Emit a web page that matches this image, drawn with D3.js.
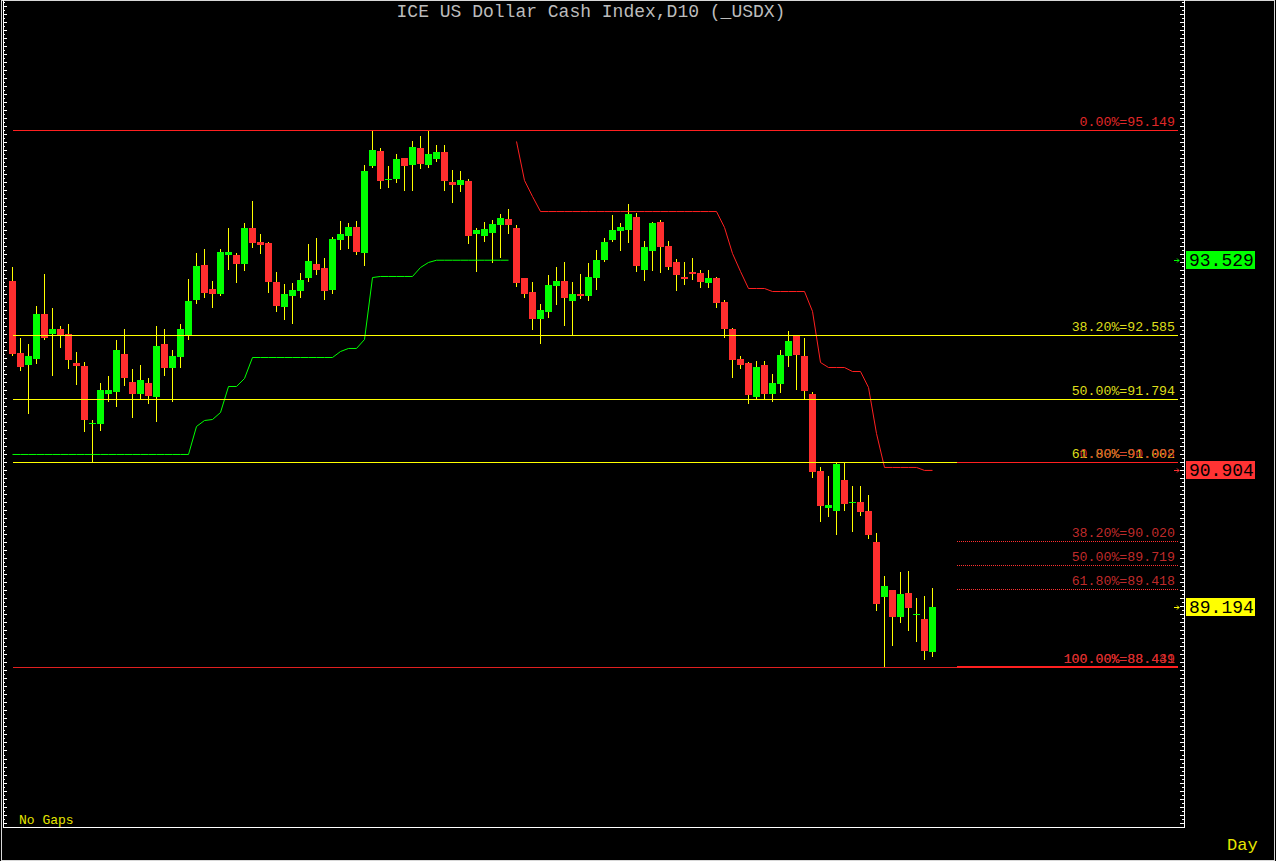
<!DOCTYPE html>
<html><head><meta charset="utf-8">
<script src="https://cdn.jsdelivr.net/npm/d3@7"></script>
<style>html,body{margin:0;padding:0;background:#000;overflow:hidden}svg{display:block}</style>
</head><body><svg id="c" width="1276" height="861"></svg>
<script>
// ---------------- data ----------------
const chartTitle = "ICE US Dollar Cash Index,D10 (_USDX)";
const footerLeft = "No Gaps";
const footerRight = "Day";

const open = [93.263,92.364,92.214,92.289,92.851,92.601,92.664,92.601,92.239,92.202,
91.490,91.478,91.852,91.877,92.352,92.002,91.852,91.989,91.815,92.477,
92.177,92.314,92.589,93.026,93.463,93.163,93.101,93.588,93.588,93.476,
93.925,93.750,93.738,93.251,92.939,93.076,93.138,93.301,93.476,93.426,
93.151,93.775,93.825,93.938,93.613,94.699,94.887,94.537,94.537,94.799,
94.712,94.924,94.712,94.787,94.874,94.500,94.462,94.512,93.850,93.825,
93.863,93.963,94.038,93.925,93.301,93.126,92.789,92.876,93.201,93.263,
93.014,93.101,93.076,93.301,93.526,93.775,93.888,93.900,94.063,93.401,
93.638,94.000,93.700,93.501,93.313,93.376,93.363,93.238,93.301,93.001,
92.664,92.289,92.239,91.815,92.214,91.852,91.977,92.327,92.589,92.327,
91.852,90.891,90.429,90.391,90.778,90.504,90.504,90.391,90.004,89.317,
89.405,89.068,89.367,89.105,89.043,88.630];
const high = [93.438,92.551,92.477,92.951,93.351,92.926,92.701,92.726,92.377,92.252,
91.527,91.989,92.077,92.527,92.664,92.164,92.214,92.052,92.701,92.664,
92.402,92.726,93.288,93.613,93.663,93.263,93.663,93.925,93.613,93.988,
94.262,93.850,93.745,93.376,93.226,93.238,93.363,93.725,93.800,93.551,
93.813,94.013,93.988,94.013,94.712,95.149,94.924,94.699,94.849,94.805,
95.012,95.074,95.149,94.962,94.962,94.649,94.637,94.537,93.925,94.000,
94.025,94.100,94.162,93.963,93.305,93.251,92.976,93.338,93.438,93.501,
93.251,93.351,93.488,93.650,93.800,94.088,93.988,94.225,94.112,93.763,
94.000,94.025,93.763,93.538,93.501,93.551,93.401,93.401,93.313,93.026,
92.676,92.327,92.252,92.264,92.264,92.102,92.402,92.639,92.595,92.551,
91.877,90.941,90.828,90.991,90.991,90.703,90.703,90.591,90.116,89.579,
89.410,89.629,89.642,89.305,89.330,89.430];
const low = [92.339,92.152,91.615,92.239,92.545,92.089,92.439,92.177,91.977,91.390,
91.003,91.403,91.765,91.702,91.964,91.565,91.790,91.740,91.515,92.089,
91.765,92.189,92.539,92.989,93.064,92.939,93.089,93.413,93.251,93.401,
93.688,93.613,93.126,92.889,92.789,92.739,93.064,93.263,93.351,93.039,
93.114,93.663,93.675,93.600,93.463,94.690,94.425,94.437,94.500,94.400,
94.400,94.674,94.687,94.762,94.400,94.250,94.387,93.738,93.388,93.763,
93.501,93.563,93.863,93.201,93.064,92.664,92.489,92.814,92.976,92.714,
92.589,93.051,93.026,93.163,93.513,93.763,93.650,93.750,93.388,93.276,
93.401,93.376,93.413,93.151,93.226,93.288,93.188,93.188,92.939,92.564,
92.064,92.177,91.740,91.790,91.790,91.765,91.877,92.202,91.915,91.790,
90.816,90.266,90.329,90.104,90.404,90.141,90.341,90.054,89.155,88.439,
88.718,89.005,88.905,88.768,88.543,88.581];
const close = [92.352,92.189,92.327,92.851,92.551,92.664,92.589,92.277,92.202,91.527,
91.495,91.902,91.902,92.402,92.052,91.852,92.027,91.827,92.452,92.177,
92.327,92.664,93.014,93.451,93.114,93.101,93.625,93.625,93.476,93.925,
93.738,93.713,93.251,92.951,93.101,93.151,93.276,93.513,93.401,93.138,
93.788,93.850,93.938,93.625,94.637,94.899,94.512,94.540,94.787,94.699,
94.937,94.724,94.849,94.874,94.512,94.462,94.525,93.825,93.900,93.913,
93.975,94.050,93.963,93.238,93.101,92.789,92.901,93.213,93.263,93.051,
93.101,93.076,93.313,93.526,93.750,93.900,93.938,94.100,93.451,93.688,
93.988,93.688,93.438,93.338,93.288,93.351,93.251,93.301,92.989,92.664,
92.277,92.214,91.840,92.189,91.852,91.989,92.339,92.514,92.339,91.890,
90.878,90.454,90.466,90.978,90.479,90.507,90.379,90.091,89.230,89.455,
89.068,89.355,89.180,89.108,88.643,89.194];

// green trailing support line (bars 0..62)
const supportStart = 0;
const supportLine = [91.103,91.103,91.103,91.103,91.103,91.103,91.103,91.103,91.103,91.103,
91.103,91.103,91.103,91.103,91.103,91.103,91.103,91.103,91.103,91.103,
91.103,91.103,91.103,91.453,91.527,91.540,91.627,91.952,91.952,92.052,
92.314,92.314,92.314,92.314,92.314,92.314,92.314,92.314,92.314,92.314,
92.314,92.389,92.427,92.427,92.539,93.313,93.326,93.326,93.326,93.326,
93.326,93.438,93.501,93.529,93.529,93.529,93.529,93.529,93.529,93.529,
93.529,93.529,93.529];
// red trailing resistance line (bars 63..115)
const resistStart = 63;
const resistLine = [95.012,94.525,94.325,94.137,94.137,94.137,94.137,94.137,94.137,94.137,
94.137,94.137,94.137,94.137,94.137,94.137,94.137,94.137,94.137,94.137,
94.137,94.137,94.137,94.137,94.137,94.137,93.938,93.613,93.388,93.176,
93.176,93.176,93.138,93.138,93.138,93.138,93.138,92.890,92.252,92.189,
92.189,92.189,92.139,92.139,91.940,91.365,90.941,90.941,90.941,90.941,
90.941,90.904,90.904];

const fibPct = ["0.00%","38.20%","50.00%","61.80%","100.00%"];
const fib1Values = [95.149, 92.585, 91.794, 91.002, 88.439];
const fib2Values = [90.998, 90.020, 89.719, 89.418, 88.441];
const fib1StartBar = 0, fib2StartBar = 118;

const tagValues = [93.529, 90.904, 89.194];

// ---------------- drawing ----------------
const svg = d3.select("#c");
const W = 1276, H = 861;
const axL = 3.5, axR = 1184.5, axB = 827.5, lineEnd = 1178;
const MONO = "'Liberation Mono', 'DejaVu Sans Mono', monospace";

const y = d3.scaleLinear().domain([88.439, 95.149]).range([667.3, 130]);
const x = d3.scaleLinear().domain([0, 115]).range([12.5, 932.5]);
const py = v => Math.round(y(v));

svg.append("rect").attr("width", W).attr("height", H).attr("fill", "#000");

// outer frame
svg.append("rect").attr("x", 1.5).attr("y", 0.5).attr("width", 1273).attr("height", 860)
  .attr("fill", "none").attr("stroke", "#d8d8d8").attr("stroke-width", 1);

// title
svg.append("text").attr("x", 591).attr("y", 17).attr("text-anchor", "middle")
  .attr("font-family", MONO).attr("font-size", 18).attr("fill", "#bcbcbc").text(chartTitle);

// axes frame
const g = svg.append("g").attr("shape-rendering", "crispEdges");
g.append("line").attr("x1", axL).attr("x2", axL).attr("y1", 0).attr("y2", axB).attr("stroke", "#fff");
g.append("line").attr("x1", axR).attr("x2", axR).attr("y1", 0).attr("y2", axB).attr("stroke", "#fff");
g.append("line").attr("x1", axL).attr("x2", axR).attr("y1", axB).attr("y2", axB).attr("stroke", "#fff");

const allTicks = d3.range(8645, 9676, 5).map(v => v / 100);
const longTicks = allTicks.filter(v => Math.round(v * 100) % 10 === 0);
const shortTicks = allTicks.filter(v => Math.round(v * 100) % 10 !== 0);
function tickAxis(axisFn, vals, size, tx) {
  const a = g.append("g").attr("transform", `translate(${tx},0)`)
    .call(axisFn(y).tickValues(vals).tickSize(size).tickFormat(""));
  a.select(".domain").remove();
  a.selectAll("line").attr("stroke", "#fff");
}
tickAxis(d3.axisRight, longTicks, 4, 3);
tickAxis(d3.axisRight, shortTicks, 2, 3);
tickAxis(d3.axisLeft, longTicks, 5, 1185);
tickAxis(d3.axisLeft, shortTicks, 3, 1185);

// candles
const bars = d3.range(open.length);
const cg = svg.append("g").attr("shape-rendering", "crispEdges");
cg.selectAll("line.wick").data(bars).join("line").attr("class", "wick")
  .attr("x1", i => x(i)).attr("x2", i => x(i))
  .attr("y1", i => py(high[i])).attr("y2", i => py(low[i]) + 1)
  .attr("stroke", "#ffff00");
cg.selectAll("rect.body").data(bars).join("rect").attr("class", "body")
  .attr("x", i => x(i) - 3.5).attr("width", 7)
  .attr("y", i => py(Math.max(open[i], close[i])))
  .attr("height", i => Math.max(1, py(Math.min(open[i], close[i])) - py(Math.max(open[i], close[i]))))
  .attr("fill", i => close[i] >= open[i] ? "#00ff00" : "#ff2e2e");

// trailing lines
const line = d3.line().x(d => x(d.i)).y(d => y(d.v) + 0.5);
svg.append("path").datum(supportLine.map((v, k) => ({i: supportStart + k, v})))
  .attr("d", line).attr("fill", "none").attr("stroke", "#00ff00").attr("stroke-width", 1);
svg.append("path").datum(resistLine.map((v, k) => ({i: resistStart + k, v})))
  .attr("d", line).attr("fill", "none").attr("stroke", "#ff2020").attr("stroke-width", 1);

// fibonacci levels
const fg = svg.append("g").attr("shape-rendering", "crispEdges");
const fib1Colors = ["#ff2020", "#ffff00", "#ffff00", "#ffff00", "#e02020"];
fib1Values.forEach((v, k) => {
  fg.append("line").attr("x1", x(fib1StartBar)).attr("x2", lineEnd)
    .attr("y1", py(v) + 0.5).attr("y2", py(v) + 0.5).attr("stroke", fib1Colors[k]);
});
fib2Values.forEach((v, k) => {
  const l = fg.append("line").attr("x1", x(fib2StartBar)).attr("x2", lineEnd)
    .attr("y1", py(v) + (k === 4 ? 0 : 0.5)).attr("y2", py(v) + (k === 4 ? 0 : 0.5))
    .attr("stroke", "#ff2020").attr("stroke-width", k === 4 ? 2 : 1);
  if (k > 0 && k < 4) l.attr("stroke-dasharray", "1,1").attr("stroke", "#ff3030");
});
const lab = svg.append("g").attr("font-family", MONO).attr("font-size", 13.25).attr("text-anchor", "end");
const fib1TextColors = ["#e02828", "#dede1a", "#dede1a", "#dede1a", "#e02828"];
fib1Values.forEach((v, k) => {
  lab.append("text").attr("x", 1175).attr("y", py(v) - 4.5).attr("fill", fib1TextColors[k])
    .text(`${fibPct[k]}=${v.toFixed(3)}`);
});
fib2Values.forEach((v, k) => {
  lab.append("text").attr("x", 1175).attr("y", py(v) - 4.5).attr("fill", "#d83030")
    .attr("fill-opacity", 0.9).text(`${fibPct[k]}=${v.toFixed(3)}`);
});

// price tags
const tagColors = ["#00ff00", "#ff3333", "#ffff00"];
tagValues.forEach((v, k) => {
  const yy = y(v);
  svg.append("rect").attr("x", 1186).attr("y", Math.round(yy) - 9).attr("width", 69).attr("height", 18)
    .attr("fill", tagColors[k]);
  svg.append("text").attr("x", 1189).attr("y", Math.round(yy) + 6).attr("font-family", MONO)
    .attr("font-size", 18).attr("fill", "#000").text(v.toFixed(3));
  svg.append("path").attr("d", `M1174,${Math.round(yy) + 0.5}h5M1177,${Math.round(yy) - 1.5}l2,2l-2,2`)
    .attr("fill", "none").attr("stroke", tagColors[k]).attr("stroke-width", 1);
});

// footers
svg.append("text").attr("x", 19).attr("y", 824).attr("font-family", MONO).attr("font-size", 13)
  .attr("fill", "#e6e600").text(footerLeft);
svg.append("text").attr("x", 1227).attr("y", 850).attr("font-family", MONO).attr("font-size", 17)
  .attr("fill", "#e6e600").text(footerRight);
</script></body></html>
